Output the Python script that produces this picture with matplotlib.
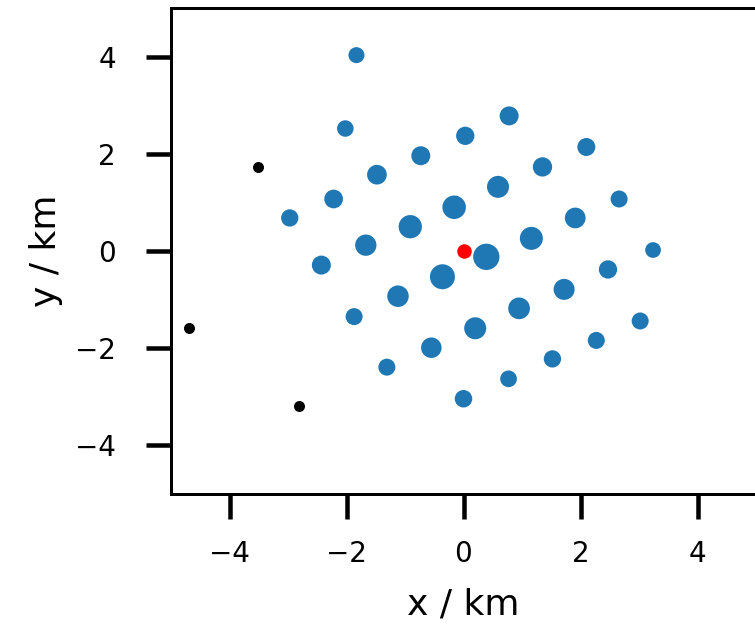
import matplotlib
matplotlib.use("Agg")
import matplotlib.pyplot as plt
import numpy as np

# Station positions (km) and relative weights
station_x = [-1.83, 0.78, -2.02, 0.03, 2.10, -0.73, 1.35, -1.48, 0.59, -2.22,
             2.66, -0.16, -2.97, 1.91, -0.91, 1.16, -1.67, 3.24, 0.39, -2.43,
             2.47, -0.36, 1.72, -1.12, 0.95, -1.87, 3.02, 0.20, 2.27, -0.55,
             1.52, -1.31, 0.77, 0.00]
station_y = [4.03, 2.78, 2.52, 2.37, 2.14, 1.96, 1.73, 1.57, 1.32, 1.07,
             1.07, 0.90, 0.68, 0.68, 0.50, 0.26, 0.12, 0.02, -0.12, -0.29,
             -0.38, -0.53, -0.79, -0.93, -1.18, -1.35, -1.44, -1.59, -1.84, -1.99,
             -2.22, -2.39, -2.63, -3.04]
station_w = [16, 19, 16.5, 18.3, 18, 19, 19.3, 19.7, 22, 18.7,
             17, 23.5, 17.3, 20.7, 23.3, 23, 21.3, 15.7, 26.3, 19,
             18.3, 25, 21, 21.5, 21.7, 17, 17, 22, 17, 20.5,
             17.3, 17, 16.7, 17.5]

outlier_x = [-3.52, -4.69, -2.82]
outlier_y = [1.73, -1.59, -3.19]

center_x = [0.0]
center_y = [0.0]

px = 100 / 72.0

fig = plt.figure(figsize=(7.55, 6.25), dpi=100)
ax = fig.add_axes([171 / 755, 1 - 494 / 625, (756 - 171) / 755, (494 - 8) / 625])

sizes = (np.array(station_w) / px) ** 2
ax.scatter(station_x, station_y, s=sizes, color="#1f77b4", linewidths=0, zorder=2)
ax.scatter(outlier_x, outlier_y, s=(11 / px) ** 2, color="black", linewidths=0, zorder=3)
ax.scatter(center_x, center_y, s=(14.5 / px) ** 2, color="red", linewidths=0, zorder=3)

ax.set_xlim(-5, 5)
ax.set_ylim(-5, 5)
ax.set_xticks([-4, -2, 0, 2, 4])
ax.set_yticks([-4, -2, 0, 2, 4])

for sp in ax.spines.values():
    sp.set_linewidth(3 / px)
ax.tick_params(length=25 / px, width=4.5 / px, labelsize=20)
ax.tick_params(axis="x", pad=21 / px)
ax.tick_params(axis="y", pad=30 / px)

ax.set_xlabel("x / km", fontsize=26, labelpad=14)
ax.set_ylabel("y / km", fontsize=26, labelpad=9)

fig.savefig("out.png", dpi=100)
